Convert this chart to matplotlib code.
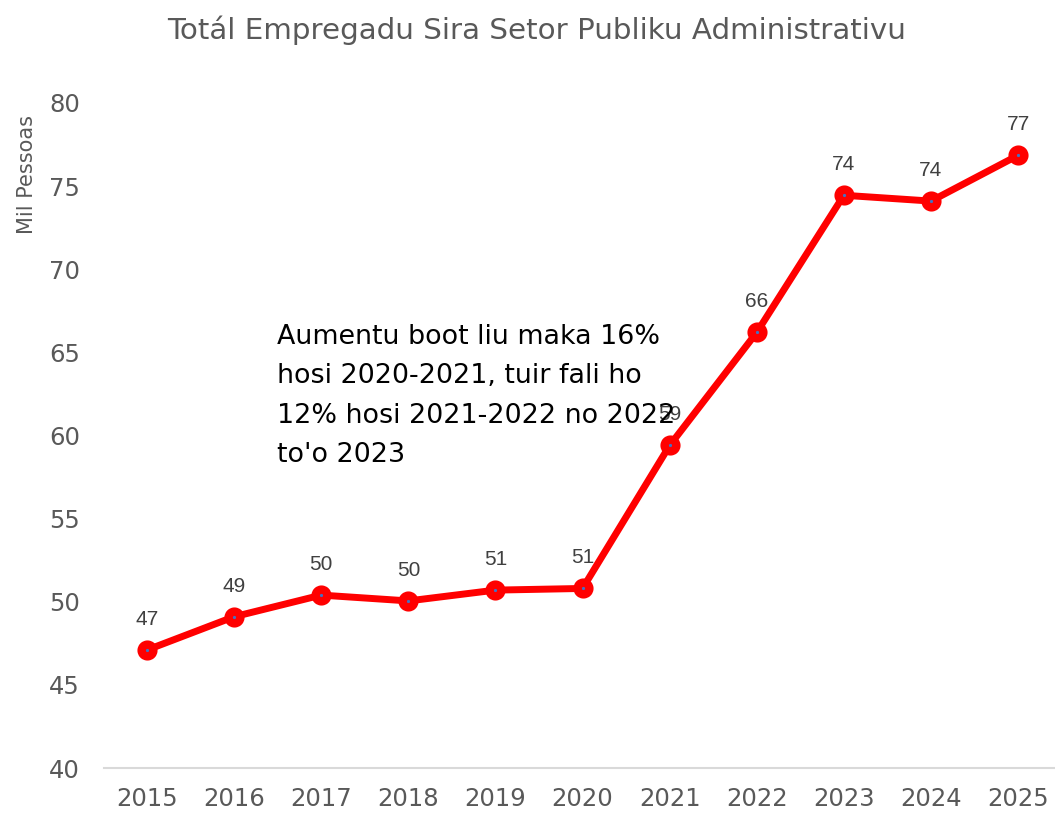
import matplotlib
matplotlib.use("Agg")
import matplotlib.pyplot as plt

years = [2015, 2016, 2017, 2018, 2019, 2020, 2021, 2022, 2023, 2024, 2025]
values = [47.1, 49.1, 50.4, 50.05, 50.7, 50.8, 59.4, 66.2, 74.45, 74.1, 76.85]
labels = ["47", "49", "50", "50", "51", "51", "59", "66", "74", "74", "77"]
title = "Totál Empregadu Sira Setor Publiku Administrativu"
ylabel = "Mil Pessoas"
note = "Aumentu boot liu maka 16%\nhosi 2020-2021, tuir fali ho\n12% hosi 2021-2022 no 2022\nto'o 2023"

W, H = 1055, 814
fig = plt.figure(figsize=(W / 100, H / 100), dpi=100)
left = 103.5 / W
right = 1061.6 / W
bottom = (H - 768) / H
top = (H - 103) / H
ax = fig.add_axes([left, bottom, right - left, top - bottom])

x = list(range(len(years)))
ax.plot(x, values, color="#FF0000", lw=5, marker="o", ms=8.5, mew=6,
        mec="#FF0000", mfc="#4472C4", zorder=3, solid_capstyle="round")

for xi, v, lab in zip(x, values, labels):
    ax.annotate(lab, (xi, v), xytext=(0, 22), textcoords="offset points",
                ha="center", va="center", fontsize=15,
                family="Liberation Sans", color="#404040", zorder=4)

ax.set_xlim(-0.5, len(years) - 0.5)
ax.set_ylim(40, 80)
ax.set_yticks(range(40, 81, 5))
ax.set_xticks(x)
ax.set_xticklabels([str(y) for y in years])

for s in ["top", "right", "left"]:
    ax.spines[s].set_visible(False)
ax.spines["bottom"].set_color("#D9D9D9")
ax.spines["bottom"].set_linewidth(1.5)
ax.tick_params(axis="both", length=0, colors="#595959", labelsize=17.5)
ax.tick_params(axis="y", pad=17)
ax.tick_params(axis="x", pad=14)

fig.text(537 / W, 1 - 30 / H, title, ha="center", va="center",
         fontsize=21.2, color="#595959")
fig.text(27 / W, 1 - 175 / H, ylabel, ha="center", va="center",
         rotation=90, fontsize=15, color="#595959")

ax.text(277 / W, 1 - 324 / H, note, transform=fig.transFigure,
        ha="left", va="top", fontsize=19.4, color="black",
        linespacing=1.67, zorder=5)

fig.savefig("out.png", dpi=100)
